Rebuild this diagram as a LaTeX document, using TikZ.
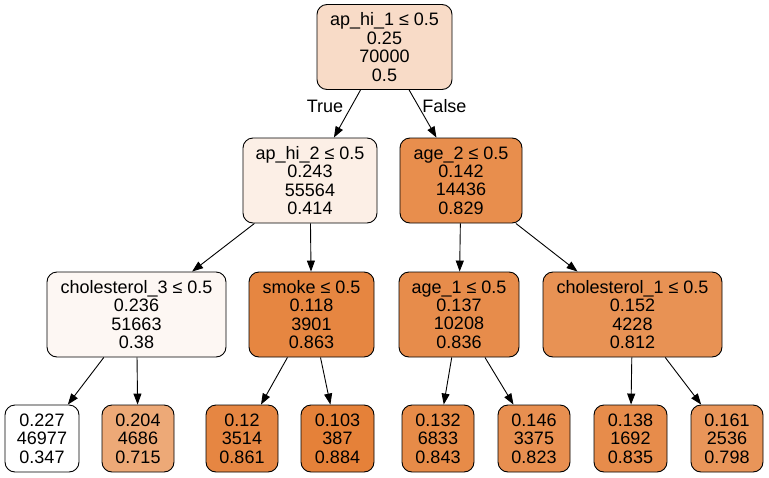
\documentclass[tikz,border=0pt]{standalone}
\usepackage{fontspec}
\setmainfont{Liberation Sans}
\usetikzlibrary{arrows.meta}
\definecolor{orng}{HTML}{E58139}
\colorlet{c0500}{orng!28.5!white}
\colorlet{c0414}{orng!12.5!white}
\colorlet{c0829}{orng!89.8!white}
\colorlet{c0380}{orng!6.1!white}
\colorlet{c0863}{orng!96.1!white}
\colorlet{c0836}{orng!91.1!white}
\colorlet{c0812}{orng!86.6!white}
\colorlet{c0347}{white}
\colorlet{c0715}{orng!68.5!white}
\colorlet{c0861}{orng!95.7!white}
\colorlet{c0884}{orng!100!white}
\colorlet{c0843}{orng!92.4!white}
\colorlet{c0823}{orng!88.6!white}
\colorlet{c0835}{orng!90.9!white}
\colorlet{c0798}{orng!84.0!white}
\begin{document}
\begin{tikzpicture}[x=1pt,y=-1pt,
  tnode/.style={draw=black,line width=0.9pt,rounded corners=10pt,align=center,
    inner sep=0pt,font=\fontsize{18}{18.4}\selectfont,minimum height=85pt},
  leaf/.style={tnode,minimum height=67pt},
  edge/.style={-{Triangle[length=11pt,width=8pt]},line width=0.9pt},
  elabel/.style={font=\fontsize{18}{18.4}\selectfont}]
\useasboundingbox (0,0) rectangle (769,477);
\node[tnode,fill=c0500,minimum width=135pt] (root) at (384.5,47) {ap\_hi\_1 ≤ 0.5\\0.25\\70000\\0.5};
\node[tnode,fill=c0414,minimum width=134pt] (n1) at (310,180.5) {ap\_hi\_2 ≤ 0.5\\0.243\\55564\\0.414};
\node[tnode,fill=c0829,minimum width=122pt] (n2) at (461,180.5) {age\_2 ≤ 0.5\\0.142\\14436\\0.829};
\node[tnode,fill=c0380,minimum width=179pt] (n3) at (136.5,314.5) {cholesterol\_3 ≤ 0.5\\0.236\\51663\\0.38};
\node[tnode,fill=c0863,minimum width=125pt] (n4) at (311.5,314.5) {smoke ≤ 0.5\\0.118\\3901\\0.863};
\node[tnode,fill=c0836,minimum width=120pt] (n5) at (459,314.5) {age\_1 ≤ 0.5\\0.137\\10208\\0.836};
\node[tnode,fill=c0812,minimum width=179pt] (n6) at (632.5,314.5) {cholesterol\_1 ≤ 0.5\\0.152\\4228\\0.812};
\node[leaf,fill=c0347,minimum width=74pt] (l1) at (42,438.5) {0.227\\46977\\0.347};
\node[leaf,fill=c0715,minimum width=72pt] (l2) at (138,438.5) {0.204\\4686\\0.715};
\node[leaf,fill=c0861,minimum width=72pt] (l3) at (242,438.5) {0.12\\3514\\0.861};
\node[leaf,fill=c0884,minimum width=73pt] (l4) at (337.5,438.5) {0.103\\387\\0.884};
\node[leaf,fill=c0843,minimum width=72pt] (l5) at (438,438.5) {0.132\\6833\\0.843};
\node[leaf,fill=c0823,minimum width=72pt] (l6) at (534,438.5) {0.146\\3375\\0.823};
\node[leaf,fill=c0835,minimum width=73pt] (l7) at (630.5,438.5) {0.138\\1692\\0.835};
\node[leaf,fill=c0798,minimum width=72pt] (l8) at (727,438.5) {0.161\\2536\\0.798};
\draw[edge] (root) -- (n1);
\draw[edge] (root) -- (n2);
\draw[edge] (n1) -- (n3);
\draw[edge] (n1) -- (n4);
\draw[edge] (n2) -- (n5);
\draw[edge] (n2) -- (n6);
\draw[edge] (n3) -- (l1);
\draw[edge] (n3) -- (l2);
\draw[edge] (n4) -- (l3);
\draw[edge] (n4) -- (l4);
\draw[edge] (n5) -- (l5);
\draw[edge] (n5) -- (l6);
\draw[edge] (n6) -- (l7);
\draw[edge] (n6) -- (l8);
\node[elabel] (tl) at (325,106) {True};
\node[elabel] (fl) at (444.5,106) {False};
\end{tikzpicture}
\end{document}
